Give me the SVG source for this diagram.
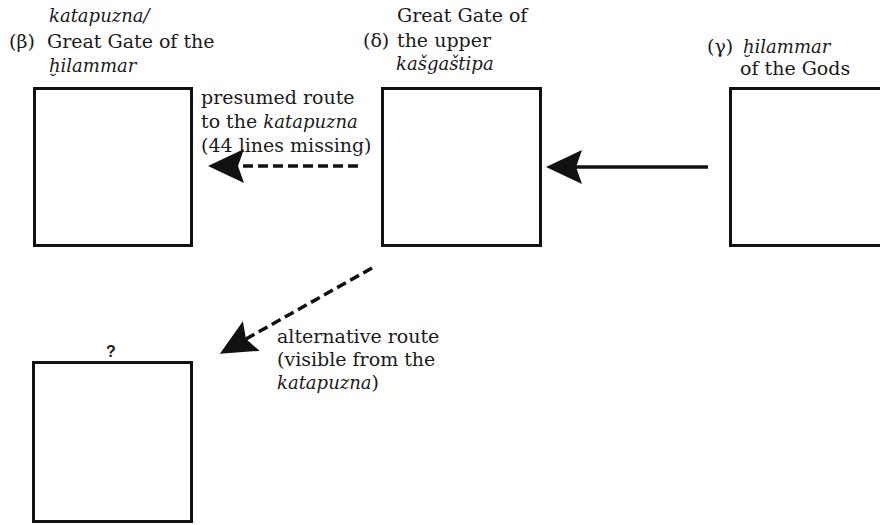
<svg xmlns="http://www.w3.org/2000/svg" width="880" height="525" viewBox="0 0 880 525">
  <style>
    .box { fill: #fff; stroke: #111; stroke-width: 3; }
    .lbl { font-family: "DejaVu Serif", "Liberation Serif", serif; font-size: 19px; fill: #1a1a1a; }
    .it { font-style: italic; font-size: 18px; }
    .q { font-family: "Liberation Sans", Arial, sans-serif; font-size: 16px; font-weight: bold; fill: #1a1a1a; text-anchor: middle; }
    .edge { fill: none; stroke: #111; stroke-width: 3.5; }
    .dash { stroke-dasharray: 10 5; }
  </style>
  <defs>
    <!-- filled arrowhead with a shallow notch; the notch sits on the line end -->
    <marker id="head" viewBox="0 0 36 34" refX="6" refY="17" markerWidth="36" markerHeight="34" markerUnits="userSpaceOnUse" orient="auto">
      <path d="M0,0 L36,17 L0,34 L6,17 Z" fill="#111"/>
    </marker>
  </defs>
  <rect width="880" height="525" fill="#fff"/>

  <g id="node-beta">
    <rect class="box" x="34.5" y="88.5" width="157" height="157"/>
    <text class="lbl it" x="49" y="22">katapuzna/</text>
    <text class="lbl" x="9" y="48">(β)</text>
    <text class="lbl" x="47" y="48">Great Gate of the</text>
    <text class="lbl it" x="49" y="72">ḫilammar</text>
  </g>

  <g id="node-delta">
    <rect class="box" x="382.5" y="88.5" width="158" height="157"/>
    <text class="lbl" x="397" y="22">Great Gate of</text>
    <text class="lbl" x="363" y="47">(δ)</text>
    <text class="lbl" x="397" y="47">the upper</text>
    <text class="lbl it" x="396" y="70">kašgaštipa</text>
  </g>

  <g id="node-gamma">
    <rect class="box" x="730.5" y="88.5" width="200" height="157"/>
    <text class="lbl" x="707" y="53">(γ)</text>
    <text class="lbl it" x="743" y="53">ḫilammar</text>
    <text class="lbl" x="740" y="75">of the Gods</text>
  </g>

  <g id="node-unknown">
    <rect class="box" x="33.5" y="362.5" width="158" height="159"/>
    <text class="q" x="111" y="357">?</text>
  </g>

  <g id="connectors">
    <line class="edge" x1="708" y1="167" x2="576" y2="167" marker-end="url(#head)"/>
    <line class="edge dash" x1="358" y1="166" x2="238" y2="166" marker-end="url(#head)"/>
    <line class="edge dash" x1="372" y1="268" x2="246" y2="339" marker-end="url(#head)"/>
    <text class="lbl" x="201" y="104">presumed route</text>
    <text class="lbl" x="201" y="128">to the <tspan class="it">katapuzna</tspan></text>
    <text class="lbl" x="201" y="152">(44 lines missing)</text>
    <text class="lbl" x="277" y="343">alternative route</text>
    <text class="lbl" x="277" y="366">(visible from the</text>
    <text class="lbl" x="277" y="389"><tspan class="it">katapuzna</tspan>)</text>
  </g>
</svg>
